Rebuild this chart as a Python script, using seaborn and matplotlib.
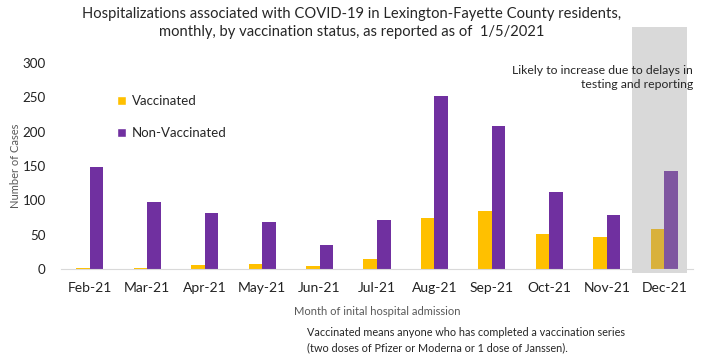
import pandas as pd
import seaborn as sns
import matplotlib.pyplot as plt
from matplotlib.patches import Rectangle

months = ['Feb-21', 'Mar-21', 'Apr-21', 'May-21', 'Jun-21', 'Jul-21',
          'Aug-21', 'Sep-21', 'Oct-21', 'Nov-21', 'Dec-21']
vaccinated = [2, 2, 6, 8, 5, 15, 74, 84, 51, 47, 58]
non_vaccinated = [148, 98, 82, 69, 35, 71, 252, 208, 112, 78, 143]

df = pd.DataFrame({
    'month': months * 2,
    'cases': vaccinated + non_vaccinated,
    'status': ['Vaccinated'] * len(months) + ['Non-Vaccinated'] * len(months)})

sns.set_style('white')
plt.rcParams['font.family'] = ['Lato', 'DejaVu Sans']

fig = plt.figure(figsize=(7.03, 3.55), dpi=100)
ax = fig.add_axes([61/703, 1-269/355, 632/703, 206/355])
ax.patch.set_alpha(0)

sns.barplot(data=df, x='month', y='cases', hue='status',
            palette=['#FFC000', '#7030A0'], width=0.47, gap=0,
            saturation=1, ax=ax, zorder=2)

# muted colours for the incomplete month
ax.containers[0][10].set_facecolor('#D9B13B')
ax.containers[1][10].set_facecolor('#7F56A0')
for c in ax.containers:
    for p in c:
        p.set_edgecolor('none')

ax.add_patch(Rectangle((9.44, -6), 0.96, 358, color='#D9D9D9',
                       clip_on=False, zorder=0, lw=0))

ax.set_ylim(0, 300)
ax.set_xlim(-0.5, 10.5)
ax.set_yticks([0, 50, 100, 150, 200, 250, 300])
ax.tick_params(axis='both', length=0, labelsize=10, colors='#222222')
ax.tick_params(axis='x', pad=9)
ax.tick_params(axis='y', pad=11, labelsize=9.6)
for s in ['top', 'right', 'left']:
    ax.spines[s].set_visible(False)
ax.spines['bottom'].set_color('#D9D9D9')
ax.spines['bottom'].set_zorder(3)

ax.set_ylabel('Number of Cases', fontsize=8, color='#595959')
ax.yaxis.set_label_coords(-0.063, 0.5)
ax.set_xlabel('Month of inital hospital admission', fontsize=8,
              color='#595959', labelpad=9)

ax.legend(loc='upper left', bbox_to_anchor=(0.07, 0.90), frameon=False,
          handlelength=0.7, handleheight=0.7, handletextpad=0.4,
          labelspacing=1.5, fontsize=9.5)

fig.text(0.5, 1-7/355, 'Hospitalizations associated with COVID-19 in Lexington-Fayette County residents,\n'
         'monthly, by vaccination status, as reported as of  1/5/2021',
         ha='center', va='top', fontsize=10.6, linespacing=1.4)
fig.text(693/703, 1-65/355, 'Likely to increase due to delays in\ntesting and reporting',
         ha='right', va='top', fontsize=8.8, linespacing=1.3)
fig.text(307/703, 1-327/355, 'Vaccinated means anyone who has completed a vaccination series\n'
         '(two doses of Pfizer or Moderna or 1 dose of Janssen).',
         ha='left', va='top', fontsize=7.8, linespacing=1.5)

fig.savefig('out.png', dpi=100)
